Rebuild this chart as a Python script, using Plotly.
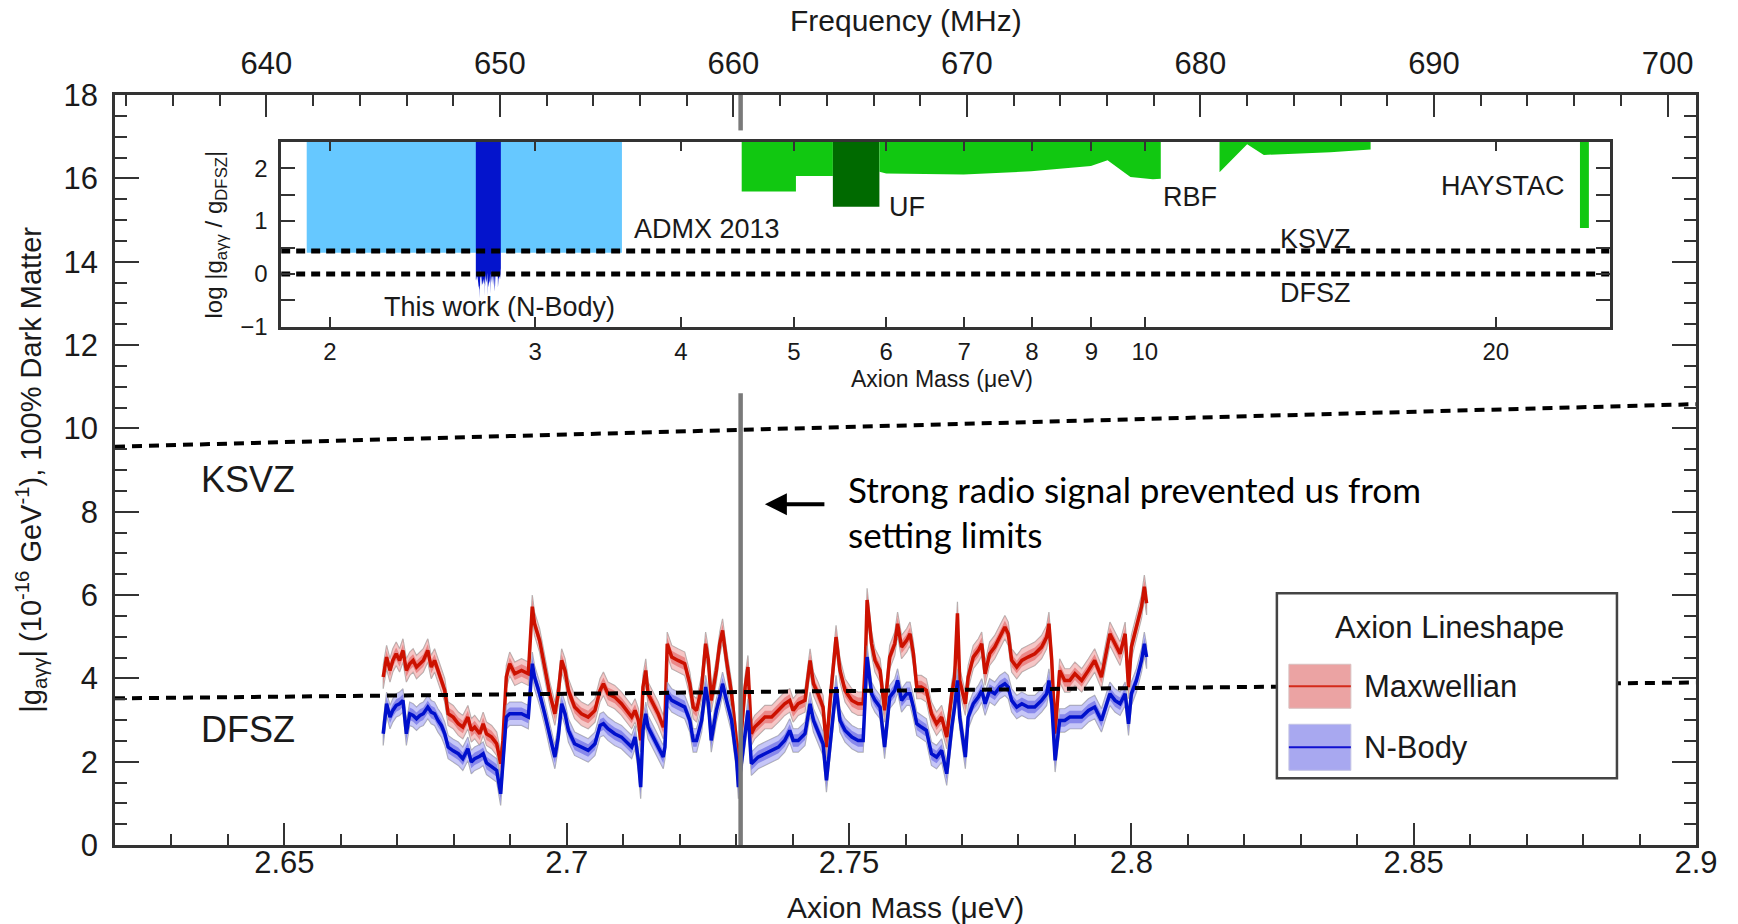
import numpy as np
import plotly.graph_objects as go

# ---------------- main data (axion mass in ueV, |g| in 1e-16 GeV^-1) ----------------
mass = [
    2.6675, 2.6681, 2.6687, 2.6692, 2.6698, 2.6704, 2.6710, 2.6716, 2.6722, 2.6728,
    2.6734, 2.6740, 2.6746, 2.6754, 2.6760, 2.6766, 2.6772, 2.6778, 2.6784, 2.6790,
    2.6799, 2.6808, 2.6816, 2.6825, 2.6831, 2.6837, 2.6846, 2.6852, 2.6858, 2.6867,
    2.6876, 2.6883, 2.6887, 2.6893, 2.6899, 2.6908, 2.6920, 2.6932, 2.6936, 2.6939,
    2.6943, 2.6952, 2.6961, 2.6970, 2.6979, 2.6985, 2.6991, 2.6997, 2.7003, 2.7014,
    2.7026, 2.7038, 2.7050, 2.7059, 2.7065, 2.7073, 2.7085, 2.7097,
    2.7115, 2.7121, 2.7127, 2.7131, 2.7135, 2.7140, 2.7144, 2.7153, 2.7162, 2.7171,
    2.7174, 2.7178, 2.7186, 2.7197, 2.7209, 2.7218, 2.7224, 2.7230, 2.7239, 2.7246,
    2.7251, 2.7256, 2.7265, 2.7271, 2.7276, 2.7283, 2.7292, 2.7301, 2.7304, 2.7316,
    2.7321, 2.7327, 2.7333, 2.7339, 2.7351, 2.7363, 2.7375, 2.7386, 2.7395, 2.7401,
    2.7410, 2.7422, 2.7431, 2.7437, 2.7445, 2.7454, 2.7460, 2.7466, 2.7477, 2.7484,
    2.7493, 2.7505, 2.7516, 2.7525, 2.7529, 2.7532, 2.7540,
    2.7546, 2.7555, 2.7563, 2.7572, 2.7581, 2.7586, 2.7593, 2.7602, 2.7608, 2.7614,
    2.7620, 2.7628, 2.7637, 2.7646, 2.7655, 2.7664, 2.7673, 2.7682, 2.7687, 2.7692,
    2.7696, 2.7706, 2.7711, 2.7720, 2.7729, 2.7735, 2.7741, 2.7749, 2.7758, 2.7767,
    2.7776, 2.7782, 2.7788, 2.7797, 2.7806, 2.7817, 2.7829, 2.7841, 2.7850, 2.7854,
    2.7859, 2.7865, 2.7873, 2.7882, 2.7891, 2.7900, 2.7912, 2.7924, 2.7935, 2.7947,
    2.7956, 2.7962, 2.7971, 2.7980, 2.7989, 2.7995, 2.8000, 2.8009, 2.8018, 2.8023,
    2.8027,
]
g_maxwellian = [
    4.03, 4.51, 4.19, 4.43, 4.59, 4.43, 4.67, 4.19, 4.35, 4.43,
    4.27, 4.35, 4.43, 4.67, 4.27, 4.43, 4.19, 3.95, 3.71, 3.15,
    3.07, 2.91, 2.83, 3.07, 2.75, 2.83, 2.67, 2.91, 2.67, 2.59,
    2.43, 1.95, 2.51, 4.03, 4.35, 4.11, 4.19, 4.11, 5.23, 5.72,
    5.31, 4.91, 4.27, 3.63, 3.15, 3.63, 4.43, 4.19, 3.71, 3.31,
    3.15, 3.07, 3.23, 3.71, 3.87, 3.63, 3.55, 3.39,
    3.07, 3.23, 2.99, 2.51, 3.79, 4.19, 3.63, 3.39, 3.15, 2.83,
    2.99, 4.83, 4.51, 4.43, 4.35, 3.87, 3.31, 3.23, 3.79, 4.83,
    4.43, 3.47, 4.19, 4.83, 5.15, 4.43, 3.63, 2.43, 1.87, 3.79,
    4.27, 2.67, 2.83, 2.91, 3.07, 3.07, 3.23, 3.39, 3.47, 3.23,
    3.39, 3.47, 4.43, 3.87, 3.63, 3.31, 2.35, 3.39, 4.99, 4.19,
    3.71, 3.47, 3.39, 3.39, 4.43, 5.88, 4.83,
    4.43, 4.19, 3.23, 4.51, 4.83, 5.31, 4.75, 4.91, 5.07, 4.59,
    3.79, 3.79, 3.71, 3.15, 2.91, 3.07, 2.59, 3.63, 4.03, 5.56,
    3.95, 3.39, 4.03, 4.51, 4.67, 4.83, 4.11, 4.59, 4.75, 4.99,
    5.23, 5.07, 4.43, 4.27, 4.43, 4.51, 4.59, 4.75, 4.99, 5.31,
    4.43, 2.67, 4.19, 3.95, 3.95, 4.11, 3.95, 4.19, 4.43, 4.03,
    4.67, 5.07, 4.83, 4.59, 5.07, 3.79, 4.75, 5.23, 5.72, 6.20,
    5.80,
]
g_nbody = [
    2.67, 3.39, 3.07, 3.23, 3.35, 3.39, 3.47, 2.67, 3.15, 3.11,
    3.03, 3.11, 3.15, 3.31, 3.19, 3.15, 2.99, 2.87, 2.67, 2.35,
    2.26, 2.19, 2.07, 2.31, 1.99, 2.07, 2.13, 2.19, 1.97, 1.87,
    1.79, 1.23, 2.03, 3.07, 3.15, 3.15, 3.15, 3.07, 3.95, 4.35,
    4.03, 3.63, 3.15, 2.59, 2.11, 2.59, 3.39, 3.15, 2.75, 2.43,
    2.35, 2.27, 2.43, 2.87, 2.91, 2.79, 2.67, 2.59,
    2.35, 2.59, 2.03, 1.39, 2.75, 3.15, 2.83, 2.59, 2.35, 2.11,
    2.35, 3.63, 3.47, 3.39, 3.31, 2.99, 2.51, 2.51, 2.99, 3.79,
    3.39, 2.51, 3.23, 3.55, 3.87, 3.47, 2.99, 2.03, 1.39, 2.67,
    3.23, 1.95, 2.03, 2.11, 2.19, 2.27, 2.35, 2.51, 2.75, 2.51,
    2.51, 2.67, 3.39, 2.99, 2.75, 2.43, 1.55, 2.35, 3.79, 2.99,
    2.75, 2.59, 2.51, 2.51, 3.47, 4.51, 3.63,
    3.47, 3.31, 2.35, 3.55, 3.71, 3.95, 3.47, 3.63, 3.63, 3.31,
    2.91, 2.83, 2.75, 2.19, 2.11, 2.27, 1.71, 2.83, 3.31, 3.95,
    3.07, 2.11, 3.07, 3.39, 3.55, 3.71, 3.39, 3.71, 3.63, 3.79,
    3.87, 3.79, 3.47, 3.31, 3.39, 3.31, 3.31, 3.47, 3.63, 3.95,
    3.39, 2.03, 2.99, 2.99, 3.07, 3.07, 3.07, 3.23, 3.31, 2.99,
    3.39, 3.63, 3.47, 3.39, 3.63, 2.91, 3.63, 3.95, 4.43, 4.83,
    4.51,
]
band_outer = 0.28
band_inner = 0.15

mass_range = [2.62, 2.90]
ksvz_g = [9.56, 10.58]
dfsz_g = [3.52, 3.90]
mhz_per_uev = 241.8
radio_mass = 2.7308
radio_hidden = [10.84, 17.15]

x_ticks = [2.65, 2.70, 2.75, 2.80, 2.85, 2.90]
x_ticktext = ["2.65", "2.7", "2.75", "2.8", "2.85", "2.9"]
freq_ticks = [640, 650, 660, 670, 680, 690, 700]
y_ticks = [0, 2, 4, 6, 8, 10, 12, 14, 16, 18]

# ---------------- inset data ----------------
inset_mass_range = [1.816, 25.04]
inset_yrange = [-1, 2.5]
inset_xticks = [2, 3, 4, 5, 6, 7, 8, 9, 10, 20]
inset_yticks = [-1, 0, 1, 2]
inset_yticktext = ["\u22121", "0", "1", "2"]
admx_mass = [1.91, 3.56]
admx_floor = [0.40, 0.40]
green1_mass = [4.51, 5.02, 5.02, 5.40]
green1_floor = [1.56, 1.56, 1.85, 1.85]
uf_mass = [5.40, 5.92]
uf_floor = [1.27, 1.27]
rbf_mass = [5.92, 6.00, 6.99, 7.99, 8.99, 9.29, 9.72, 10.16, 10.32]
rbf_floor = [1.93, 1.90, 1.88, 1.94, 2.04, 2.15, 1.83, 1.79, 1.80]
green2_mass = [11.59, 12.24, 12.65, 14.43, 15.62]
green2_floor = [1.92, 2.45, 2.25, 2.30, 2.35]
haystac_mass = [23.62, 24.04]
haystac_floor = [0.87, 0.87]

FONT = "Liberation Sans, Arial, sans-serif"
NOTE_FONT = "Lato, Open Sans, sans-serif"
TXT = "#1a1a1a"
AX = "#333333"

m = np.array(mass)
gr = np.array(g_maxwellian)
gb = np.array(g_nbody)

fig = go.Figure()


def band(y, hw, color):
    return go.Scatter(x=np.concatenate([m, m[::-1]]),
                      y=np.concatenate([y + hw, (y - hw)[::-1]]),
                      fill="toself", fillcolor=color, mode="lines",
                      line=dict(width=0), hoverinfo="skip", showlegend=False)


def outline(y, hw):
    return go.Scatter(x=np.concatenate([m, m[::-1], m[:1]]),
                      y=np.concatenate([y + hw, (y - hw)[::-1], y[:1] + hw]),
                      mode="lines", line=dict(color="rgba(150,150,150,0.75)", width=1.2),
                      hoverinfo="skip", showlegend=False)


fig.add_trace(outline(gr, band_outer))
fig.add_trace(band(gr, band_outer, "rgba(238,160,160,0.6)"))
fig.add_trace(band(gr, band_inner, "rgba(225,85,85,0.55)"))
fig.add_trace(go.Scatter(x=m, y=gr, mode="lines", line=dict(color="#cc1100", width=3.5),
                         showlegend=False, hoverinfo="skip"))
fig.add_trace(outline(gb, band_outer))
fig.add_trace(band(gb, band_outer, "rgba(160,160,242,0.6)"))
fig.add_trace(band(gb, band_inner, "rgba(85,85,225,0.55)"))
fig.add_trace(go.Scatter(x=m, y=gb, mode="lines", line=dict(color="#0010cc", width=3.5),
                         showlegend=False, hoverinfo="skip"))

for g in (ksvz_g, dfsz_g):
    fig.add_trace(go.Scatter(x=mass_range, y=g, mode="lines",
                             line=dict(color="black", width=4, dash="10px,7px"),
                             showlegend=False, hoverinfo="skip"))

fig.add_trace(go.Scatter(x=[radio_mass, radio_mass, None, radio_mass, radio_mass],
                         y=[0, radio_hidden[0], None, radio_hidden[1], 18],
                         mode="lines", line=dict(color="#7a7a7a", width=4.5),
                         showlegend=False, hoverinfo="skip", cliponaxis=False))

# dummy trace for the frequency axis
fig.add_trace(go.Scatter(x=[mass_range[0] * mhz_per_uev, mass_range[1] * mhz_per_uev],
                         y=[0, 0], xaxis="x2", yaxis="y", mode="markers",
                         marker=dict(opacity=0), showlegend=False, hoverinfo="skip"))

# ---------------- inset ----------------
top = inset_yrange[1]


def area(xs, floor, color):
    xs = list(xs)
    return go.Scatter(x=xs + xs[::-1], y=list(floor) + [top] * len(xs),
                      fill="toself", fillcolor=color, mode="lines", line=dict(width=0),
                      xaxis="x3", yaxis="y3", showlegend=False, hoverinfo="skip")


fig.add_trace(area(admx_mass, admx_floor, "#66c8ff"))
fig.add_trace(area(green1_mass, green1_floor, "#11c811"))
fig.add_trace(area(uf_mass, uf_floor, "#006a00"))
fig.add_trace(area(rbf_mass, rbf_floor, "#11c811"))
fig.add_trace(area(green2_mass, green2_floor, "#11c811"))
fig.add_trace(area(haystac_mass, haystac_floor, "#11c811"))

dfsz_at_m = np.interp(m, mass_range, dfsz_g)
this_work_floor = np.log10(gb / dfsz_at_m)
fig.add_trace(area(m, this_work_floor, "#0414cc"))

ksvz_ratio = np.log10(ksvz_g[0] / dfsz_g[0])
for r in (ksvz_ratio, 0.0):
    fig.add_trace(go.Scatter(x=inset_mass_range, y=[r, r], mode="lines",
                             line=dict(color="black", width=5, dash="9px,6px"),
                             xaxis="x3", yaxis="y3", showlegend=False, hoverinfo="skip"))

# ---------------- layout ----------------
tickfont = dict(family=FONT, size=31, color=TXT)
inset_tickfont = dict(family=FONT, size=24, color=TXT)

fig.update_layout(
    width=1738, height=924,
    margin=dict(l=115, r=42, t=95, b=79),
    paper_bgcolor="white", plot_bgcolor="white",
    showlegend=False, hovermode=False,
    xaxis=dict(range=mass_range, tickvals=x_ticks, ticktext=x_ticktext,
               ticks="inside", ticklen=22, tickwidth=2, tickcolor=AX,
               minor=dict(dtick=0.01, tick0=2.62, ticks="inside", ticklen=11,
                          tickwidth=2, tickcolor=AX),
               showline=True, linewidth=2.5, linecolor=AX, mirror=False,
               showgrid=False, zeroline=False, tickfont=tickfont,
               ticklabelstandoff=-12),
    xaxis2=dict(range=[mass_range[0] * mhz_per_uev, mass_range[1] * mhz_per_uev],
                overlaying="x", side="top", anchor="y",
                tickvals=freq_ticks, ticks="inside", ticklen=22, tickwidth=2, tickcolor=AX,
                minor=dict(dtick=2, tick0=640, ticks="inside", ticklen=11,
                           tickwidth=2, tickcolor=AX),
                showline=True, linewidth=2.5, linecolor=AX,
                showgrid=False, zeroline=False, tickfont=tickfont,
                ticklabelstandoff=6),
    yaxis=dict(range=[0, 18], tickvals=y_ticks,
               ticks="inside", ticklen=24, tickwidth=2, tickcolor=AX,
               minor=dict(dtick=0.5, tick0=0, ticks="inside", ticklen=12,
                          tickwidth=2, tickcolor=AX),
               showline=True, linewidth=2.5, linecolor=AX, mirror="ticks",
               showgrid=False, zeroline=False, tickfont=tickfont,
               ticklabelstandoff=8),
    xaxis3=dict(type="log", domain=[0.1051, 0.9453], anchor="y3",
                range=[np.log10(inset_mass_range[0]), np.log10(inset_mass_range[1])],
                tickvals=inset_xticks, ticktext=[str(t) for t in inset_xticks],
                ticks="inside", ticklen=10, tickwidth=2, tickcolor=AX,
                showline=True, linewidth=2.5, linecolor=AX, mirror="ticks",
                showgrid=False, zeroline=False, tickfont=inset_tickfont,
                ticklabelstandoff=2),
    yaxis3=dict(domain=[0.6908, 0.9378], anchor="x3", range=inset_yrange,
                tickvals=inset_yticks, ticktext=inset_yticktext,
                ticks="inside", ticklen=14, tickwidth=2, tickcolor=AX,
                minor=dict(dtick=0.5, tick0=0, ticks="inside", ticklen=14,
                           tickwidth=2, tickcolor=AX),
                showline=True, linewidth=2.5, linecolor=AX, mirror="ticks",
                showgrid=False, zeroline=False, tickfont=inset_tickfont,
                ticklabelstandoff=6),
)


def note(text, x, y, size, xanchor="center", xref="paper", yref="paper",
         family=FONT, color=TXT, angle=0):
    return dict(text=text, x=x, y=y, xref=xref, yref=yref, xanchor=xanchor,
                yanchor="middle", showarrow=False, textangle=angle,
                font=dict(family=family, size=size, color=color))


ann = []
# axis titles
ann.append(note("Frequency (MHz)", 0.5, 1.0999, 30))
ann.append(note("Axion Mass (\u03bceV)", 0.5, -0.0833, 30))
ann.append(note("|g<sub>a\u03b3\u03b3</sub>| (10<sup>-16</sup> GeV<sup>-1</sup>), 100% Dark Matter",
                -0.0533, 0.5, 29, angle=-90))
# model labels
ann.append(note("KSVZ", 2.6349, 8.78, 36, xanchor="left", xref="x", yref="y"))
ann.append(note("DFSZ", 2.6349, 2.78, 36, xanchor="left", xref="x", yref="y"))
# radio signal note
ann.append(dict(text="", x=2.7351, y=8.18, ax=61, ay=0, showarrow=True,
                arrowhead=2, arrowsize=1.1, arrowwidth=4, arrowcolor="black"))
ann.append(note("Strong radio signal prevented us from", 0.4623, 0.4744, 35,
                xanchor="left", family=NOTE_FONT, color="black"))
ann.append(note("setting limits", 0.4623, 0.4144, 35,
                xanchor="left", family=NOTE_FONT, color="black"))
# inset labels
for txt, mm, yy in [("ADMX 2013", 3.63, 0.854), ("This work (N-Body)", 2.217, -0.625),
                    ("UF", 6.005, 1.27), ("RBF", 10.32, 1.46), ("HAYSTAC", 17.88, 1.67),
                    ("KSVZ", 13.02, 0.667), ("DFSZ", 13.02, -0.354)]:
    ann.append(note(txt, np.log10(mm), yy, 27, xanchor="left", xref="x3", yref="y3"))
ann.append(note("Axion Mass (\u03bceV)", 0.523, 0.6214, 23))
ann.append(note("log |g<sub>a\u03b3\u03b3</sub> / g<sub>DFSZ</sub>|", 0.0637, 0.8136, 24,
                angle=-90))
# legend
ann.append(note("Axion Lineshape", 0.8444, 0.2904, 31))
ann.append(note("Maxwellian", 0.7888, 0.2117, 31, xanchor="left"))
ann.append(note("N-Body", 0.7888, 0.1303, 31, xanchor="left"))

shapes = [
    dict(type="rect", xref="paper", yref="paper", x0=0.7349, x1=0.9500, y0=0.0889, y1=0.3358,
         fillcolor="white", line=dict(color="#444", width=2.5), layer="above"),
    dict(type="rect", xref="paper", yref="paper", x0=0.7425, x1=0.7817, y0=0.1823, y1=0.2410,
         fillcolor="#eba3a3", line=dict(color="#d8c0c0", width=1), layer="above"),
    dict(type="line", xref="paper", yref="paper", x0=0.7425, x1=0.7817, y0=0.2117, y1=0.2117,
         line=dict(color="#d42a1a", width=2), layer="above"),
    dict(type="rect", xref="paper", yref="paper", x0=0.7425, x1=0.7817, y0=0.0996, y1=0.1610,
         fillcolor="#a8a8f0", line=dict(color="#c4c4e4", width=1), layer="above"),
    dict(type="line", xref="paper", yref="paper", x0=0.7425, x1=0.7817, y0=0.1303, y1=0.1303,
         line=dict(color="#1010d0", width=2), layer="above"),
]
fig.update_layout(annotations=ann, shapes=shapes)

fig.write_html("out.html")
